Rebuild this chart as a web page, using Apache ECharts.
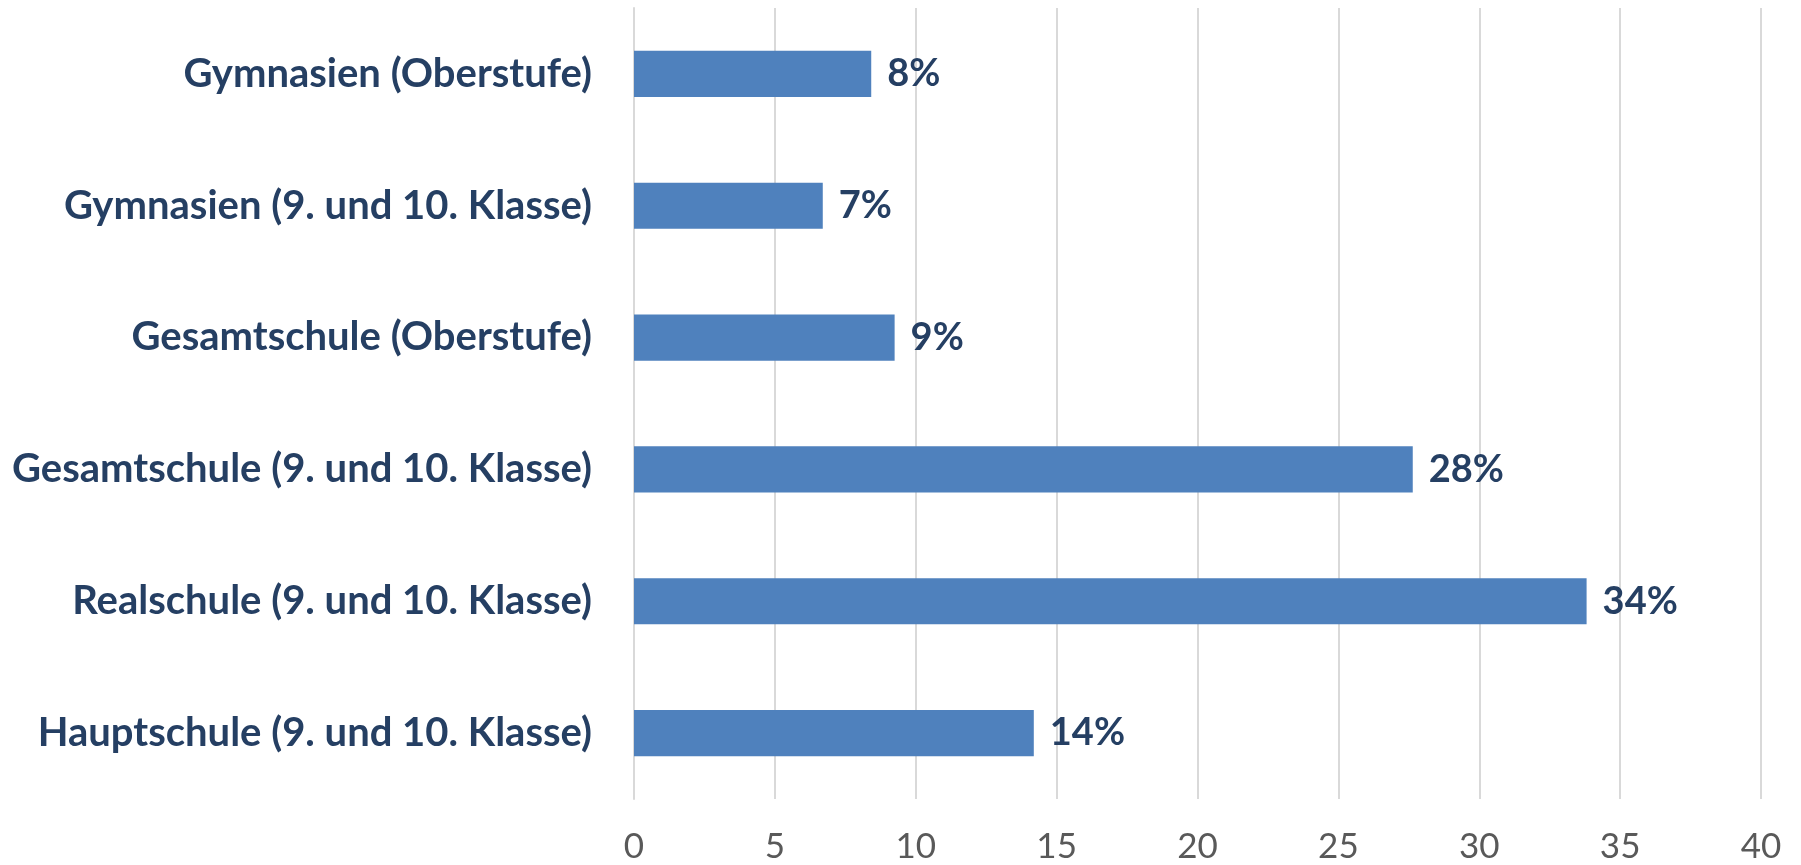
<!DOCTYPE html>
<html><head><meta charset="utf-8">
<script src="https://cdn.jsdelivr.net/npm/echarts@6/dist/echarts.min.js"></script>
<style>html,body{margin:0;padding:0;background:#fff}#c{width:1801px;height:865px}</style>
</head><body><div id="c"></div>
<script>
const categories = [
  "Gymnasien (Oberstufe)",
  "Gymnasien (9. und 10. Klasse)",
  "Gesamtschule (Oberstufe)",
  "Gesamtschule (9. und 10. Klasse)",
  "Realschule (9. und 10. Klasse)",
  "Hauptschule (9. und 10. Klasse)"
];
const values = [8.42, 6.70, 9.25, 27.64, 33.81, 14.19];
const valueLabels = ["8%", "7%", "9%", "28%", "34%", "14%"];
const xTicks = [0, 5, 10, 15, 20, 25, 30, 35, 40];

const navy = "#253F63";
const chart = echarts.init(document.getElementById('c'), null, {renderer: 'canvas'});
chart.setOption({
  animation: false,
  grid: {left: 634, right: 40, top: 8, bottom: 66, containLabel: false},
  xAxis: {
    type: 'value', min: xTicks[0], max: xTicks[xTicks.length - 1], interval: 5,
    axisLine: {show: false}, axisTick: {show: false},
    splitLine: {show: true, lineStyle: {color: '#D9D9D9', width: 2}},
    axisLabel: {color: '#595959', fontFamily: 'Lato', fontSize: 35, margin: 30}
  },
  yAxis: {
    type: 'category', data: categories, inverse: true,
    axisLine: {show: true, lineStyle: {color: '#D9D9D9', width: 2}},
    axisTick: {show: false},
    axisLabel: {color: navy, fontFamily: 'Lato', fontWeight: 'bold', fontSize: 40, margin: 42}
  },
  series: [{
    type: 'bar', data: values, barWidth: '35%',
    itemStyle: {color: '#4F81BD'},
    label: {
      show: true, position: 'right', distance: 16,
      color: navy, fontFamily: 'Lato', fontWeight: 'bold', fontSize: 38,
      formatter: p => valueLabels[p.dataIndex]
    }
  }]
});
</script></body></html>
